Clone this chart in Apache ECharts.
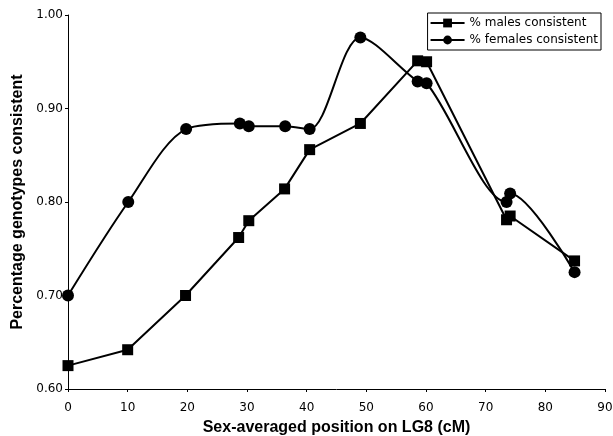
<!DOCTYPE html>
<html>
<head>
<meta charset="utf-8">
<script src="https://cdn.jsdelivr.net/npm/echarts@6/dist/echarts.min.js"></script>
<style>html,body{margin:0;padding:0;background:#fff}#c{width:613px;height:436px}</style>
</head>
<body>
<div id="c"></div>
<script>
const maleX = [0, 10, 19.7, 28.6, 30.3, 36.3, 40.5, 49.0, 58.6, 60.1, 73.5, 74.1, 84.9];
const maleY = [0.625, 0.642, 0.700, 0.762, 0.780, 0.814, 0.856, 0.884, 0.951, 0.950, 0.781, 0.785, 0.737];
const femaleX = [0, 10.1, 19.8, 28.8, 30.3, 36.4, 40.5, 49.0, 58.6, 60.1, 73.5, 74.1, 84.9];
const femaleY = [0.700, 0.800, 0.878, 0.884, 0.881, 0.881, 0.878, 0.976, 0.929, 0.927, 0.800, 0.809, 0.725];
const xTicks = {min: 0, max: 90, interval: 10};
const yTicks = {min: 0.6, max: 1.0, interval: 0.1};

const pairs = (xs, ys) => xs.map((x, i) => [x, ys[i]]);
const chart = echarts.init(document.getElementById('c'));
const tickFont = {fontFamily: 'DejaVu Sans', fontSize: 12, color: '#000'};
chart.setOption({
  animation: false,
  backgroundColor: '#fff',
  grid: {left: 68, right: 8, top: 15, bottom: 47, containLabel: false, outerBoundsMode: 'none'},
  legend: {
    orient: 'vertical', right: 12, top: 13,
    backgroundColor: '#fff',
    borderColor: '#000', borderWidth: 1, borderRadius: 0,
    padding: [4, 3, 4, 2], itemGap: 5,
    itemWidth: 34, itemHeight: 11,
    textStyle: {fontFamily: 'DejaVu Sans', fontSize: 12, color: '#000'},
    data: ['% males consistent', '% females consistent']
  },
  xAxis: {
    type: 'value', min: xTicks.min, max: xTicks.max, interval: xTicks.interval,
    name: 'Sex-averaged position on LG8 (cM)', nameLocation: 'middle', nameGap: 31,
    nameTextStyle: {fontFamily: 'Liberation Sans', fontWeight: 'bold', fontSize: 16, color: '#000'},
    axisLine: {lineStyle: {color: '#000', width: 1}},
    axisTick: {show: true, length: 3, lineStyle: {color: '#000'}},
    axisLabel: Object.assign({margin: 13}, tickFont),
    splitLine: {show: false}
  },
  yAxis: {
    type: 'value', min: yTicks.min, max: yTicks.max, interval: yTicks.interval,
    name: 'Percentage genotypes consistent', nameLocation: 'middle', nameGap: 42,
    nameTextStyle: {fontFamily: 'Liberation Sans', fontWeight: 'bold', fontSize: 16, color: '#000'},
    axisLine: {show: true, lineStyle: {color: '#000', width: 1}},
    axisTick: {show: true, length: 3, lineStyle: {color: '#000'}},
    axisLabel: Object.assign({margin: 5, formatter: v => v.toFixed(2)}, tickFont),
    splitLine: {show: false}
  },
  series: [
    {
      name: '% males consistent', type: 'line',
      data: pairs(maleX, maleY),
      symbol: 'rect', symbolSize: 11,
      lineStyle: {color: '#000', width: 2},
      itemStyle: {color: '#000'},
      smooth: false
    },
    {
      name: '% females consistent', type: 'line',
      data: pairs(femaleX, femaleY),
      symbol: 'circle', symbolSize: 12,
      lineStyle: {color: '#000', width: 2},
      itemStyle: {color: '#000'},
      smooth: 0.3
    }
  ]
});
</script>
</body>
</html>
